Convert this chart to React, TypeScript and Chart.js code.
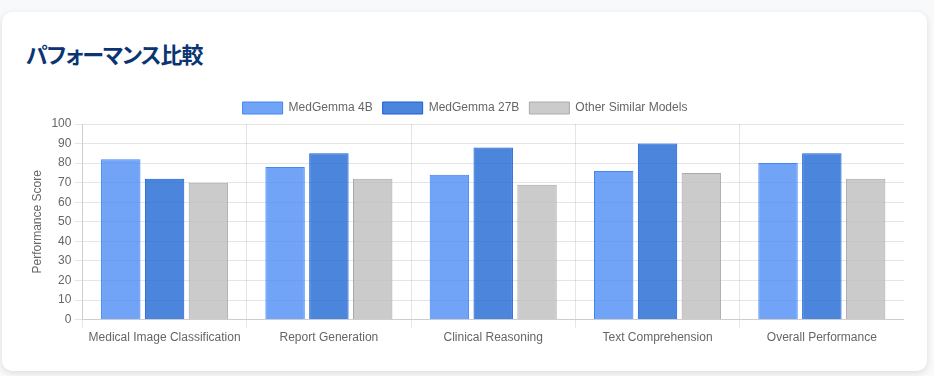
import React, { useEffect, useRef } from "react";
import { Chart, registerables } from "chart.js";

Chart.register(...registerables);

const categories = [
  "Medical Image Classification",
  "Report Generation",
  "Clinical Reasoning",
  "Text Comprehension",
  "Overall Performance",
];
const medGemma4B = [82, 78, 74, 76, 80];
const medGemma27B = [72, 85, 88, 90, 85];
const otherModels = [70, 72, 69, 75, 72];

export default function App() {
  const ref = useRef<HTMLCanvasElement>(null);
  useEffect(() => {
    document.body.style.margin = "0";
    document.body.style.background = "#f8f9fa";
    const chart = new Chart(ref.current!, {
      type: "bar",
      data: {
        labels: categories,
        datasets: [
          {
            label: "MedGemma 4B",
            data: medGemma4B,
            backgroundColor: "rgba(66,133,244,0.75)",
            borderColor: "rgba(66,133,244,1)",
            borderWidth: 1,
          },
          {
            label: "MedGemma 27B",
            data: medGemma27B,
            backgroundColor: "rgba(26,100,210,0.78)",
            borderColor: "rgba(26,95,215,1)",
            borderWidth: 1,
          },
          {
            label: "Other Similar Models",
            data: otherModels,
            backgroundColor: "rgba(190,190,190,0.8)",
            borderColor: "rgba(170,170,170,1)",
            borderWidth: 1,
          },
        ],
      },
      options: {
        animation: false,
        responsive: true,
        maintainAspectRatio: false,
        plugins: {
          legend: { position: "top" },
          tooltip: { enabled: false },
        },
        scales: {
          y: {
            min: 0,
            max: 100,
            ticks: { stepSize: 10 },
            title: { display: true, text: "Performance Score" },
          },
        },
      },
    });
    return () => chart.destroy();
  }, []);
  return (
    <div
      style={{
        position: "absolute",
        left: 2,
        top: 12,
        width: 925,
        height: 359,
        background: "#fff",
        borderRadius: 10,
        boxShadow: "0 2px 6px rgba(0,0,0,0.12)",
      }}
    >
      <div
        style={{
          position: "absolute",
          left: 24,
          top: 23,
          fontFamily: "'Noto Sans CJK JP', sans-serif",
          fontWeight: 700,
          fontSize: 22,
          letterSpacing: "-1px",
          fontFeatureSettings: "'palt'",
          color: "#0b3572",
          lineHeight: "36px",
        }}
      >
        パフォーマンス比較
      </div>
      <div
        style={{
          position: "absolute",
          left: 24,
          top: 80,
          width: 878,
          height: 256,
        }}
      >
        <canvas ref={ref} />
      </div>
    </div>
  );
}
